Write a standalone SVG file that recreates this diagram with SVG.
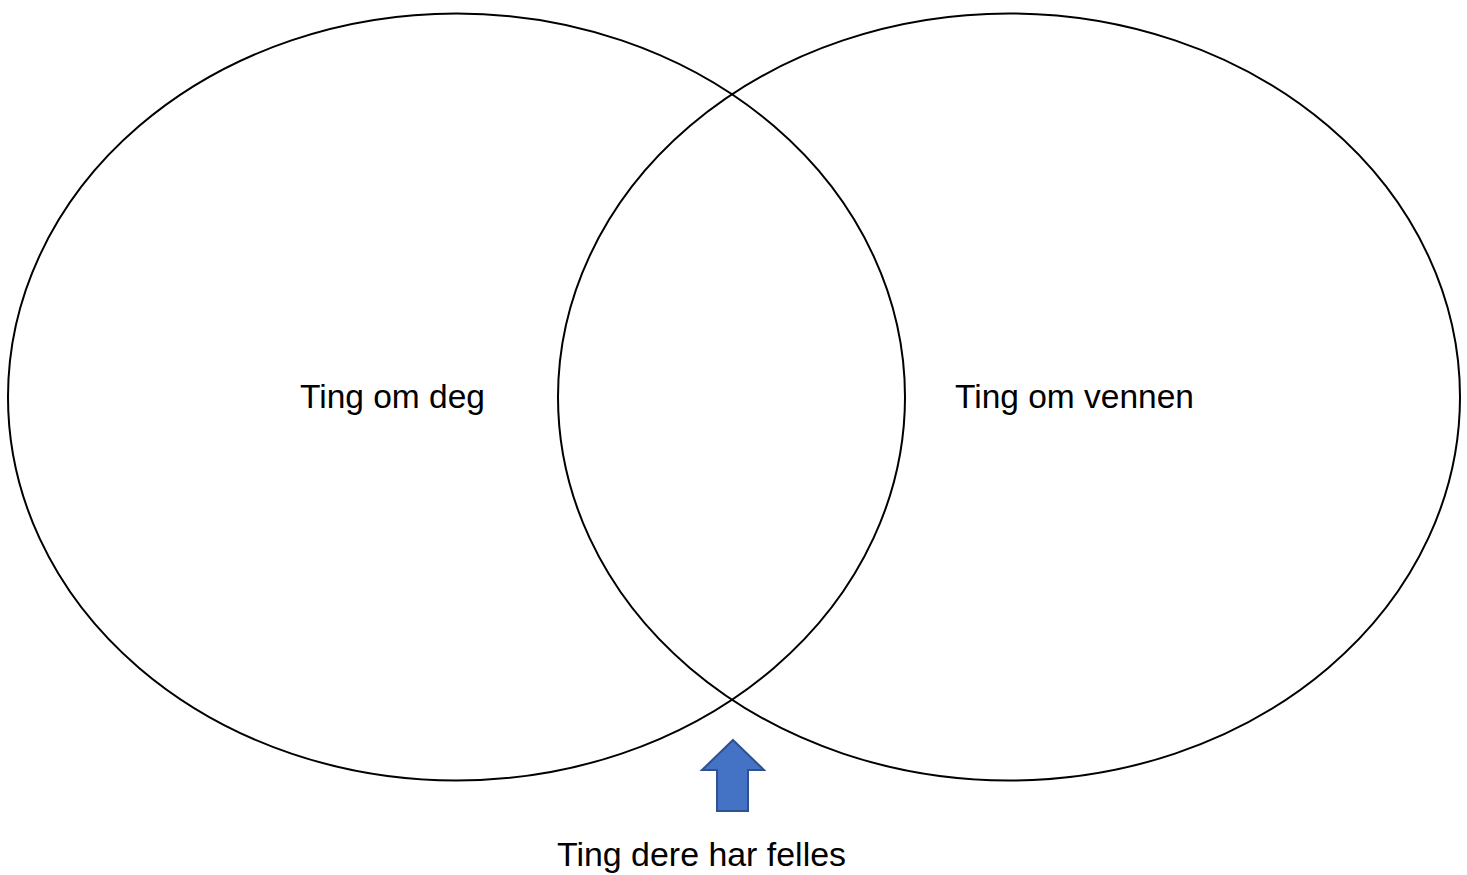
<svg xmlns="http://www.w3.org/2000/svg" width="1467" height="875" viewBox="0 0 1467 875">
<style>
.circle{fill:none;stroke:#000;stroke-width:2}
.lbl{font-family:"Liberation Sans",Arial,sans-serif;font-size:33px;fill:#000}
.arrow{fill:#4472C4;stroke:#2F528F;stroke-width:2}
</style>
<rect width="1467" height="875" fill="#fff"/>
<g id="left">
<ellipse class="circle" cx="456.5" cy="397" rx="448.5" ry="383.5"/>
<text class="lbl" x="300" y="408" textLength="185" lengthAdjust="spacingAndGlyphs">Ting om deg</text>
</g>
<g id="right">
<ellipse class="circle" cx="1009" cy="397" rx="451" ry="383.5"/>
<text class="lbl" x="955" y="408" textLength="239" lengthAdjust="spacingAndGlyphs">Ting om vennen</text>
</g>
<g id="common">
<text class="lbl" x="557" y="866" textLength="289" lengthAdjust="spacingAndGlyphs">Ting dere har felles</text>
</g>
<g id="connectors">
<polygon class="arrow" points="733,740 764,770 748,770 748,811 717,811 717,770 702,770"/>
</g>
</svg>
